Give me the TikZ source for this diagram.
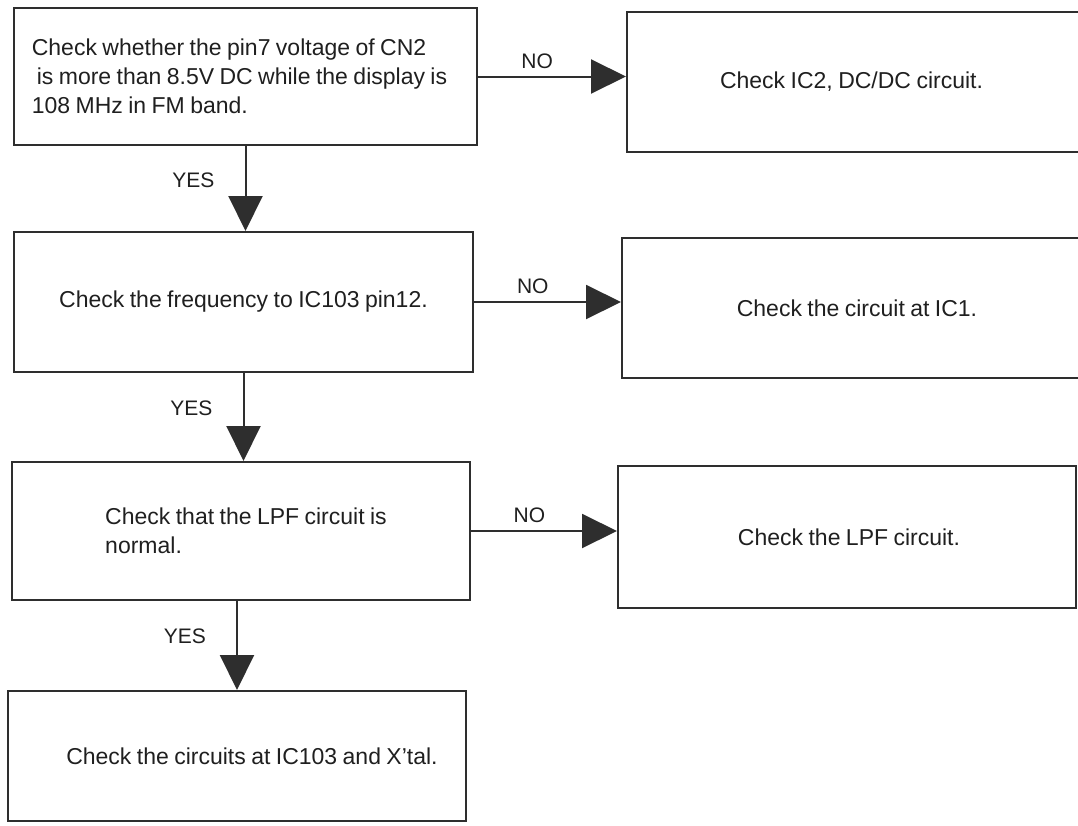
\documentclass[tikz,border=0pt]{standalone}
\usepackage{fontspec}
\setmainfont[WordSpace=0.85]{Liberation Sans}
\usetikzlibrary{arrows.meta}
\newcommand{\boxfont}{\fontsize{23}{29}\selectfont}
\newcommand{\tagfont}{\fontsize{21}{24}\selectfont}
\definecolor{ink}{HTML}{2E2E2E}
\begin{document}
\begin{tikzpicture}[x=1pt,y=-1pt,
  stepbox/.style={draw=ink, line width=2pt, rectangle, inner sep=0pt,
                  font=\boxfont, text=black!88},
  flow/.style={draw=ink, line width=2pt, -{Triangle[length=35pt,width=34pt]}},
  tag/.style={font=\tagfont, text=black!88, inner sep=0pt}]

% page frame
\clip (0,0) rectangle (1078,825);

% left column: checks
\node[stepbox, minimum width=463pt, minimum height=137pt, align=left] (b1) at (245.5,76.5)
  {Check whether the pin7 voltage of CN2\\\hspace*{5pt}is more than 8.5V DC while the display is\rule{12pt}{0pt}\\108 MHz in FM band.};
\node[stepbox, minimum width=459pt, minimum height=140pt] (b3) at (243.5,302)
  {Check the frequency to IC103 pin12.};
\node[stepbox, minimum width=458pt, minimum height=138pt, align=left] (b5) at (241,531)
  {\hspace*{10pt}Check that the LPF circuit is\\\hspace*{10pt}normal.};
\node[stepbox, minimum width=458pt, minimum height=130pt] (b7) at (237,756)
  {\hspace*{30pt}Check the circuits at IC103 and X'tal.};

% right column: remedies
\node[stepbox, minimum width=465pt, minimum height=140pt] (b2) at (859.5,82)
  {Check IC2, DC/DC circuit.\hspace*{16pt}};
\node[stepbox, minimum width=470pt, minimum height=140pt] (b4) at (857,308)
  {Check the circuit at IC1.};
\node[stepbox, minimum width=458pt, minimum height=142pt] (b6) at (847,537)
  {Check the LPF circuit.\hspace*{-4pt}};

% NO branches
\draw[flow] (b1.east) -- node[tag, above=7pt, pos=0.4] (n1) {NO} (b1.east -| b2.west);
\draw[flow] (b3.east) -- node[tag, above=7pt, pos=0.4] (n2) {NO} (b3.east -| b4.west);
\draw[flow] (b5.east) -- node[tag, above=7pt, pos=0.4] (n3) {NO} (b5.east -| b6.west);

% YES branches
\draw[flow] (b1.south) -- node[tag, left=30pt, pos=0.4] (y1) {YES} (b1.south |- b3.north);
\draw[flow] (b3.south) -- node[tag, left=30pt, pos=0.4] (y2) {YES} (b3.south |- b5.north);
\draw[flow] (b5.south -| b7.north) -- node[tag, left=30pt, pos=0.4] (y3) {YES} (b7.north);
\end{tikzpicture}
\end{document}
